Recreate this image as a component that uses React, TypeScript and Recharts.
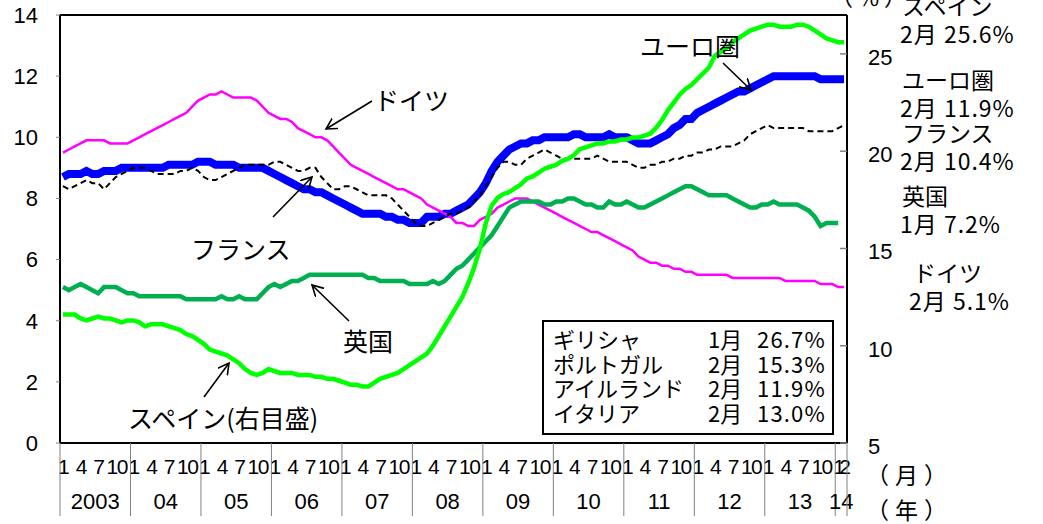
import React from 'react';
import { LineChart, Line, XAxis, YAxis, ReferenceLine } from 'recharts';

// monthly, Jan 2003 .. Feb 2014 (%)
const firstYear = 2003;
const labelMonths = [1, 4, 7, 10];

const euroArea = [
  8.7, 8.8, 8.8, 8.8, 8.9, 8.8, 8.8, 8.9, 8.9, 8.9, 9.0, 9.0,
  9.0, 9.0, 9.0, 9.0, 9.0, 9.0, 9.1, 9.1, 9.1, 9.1, 9.1, 9.2,
  9.2, 9.2, 9.1, 9.1, 9.1, 9.1, 9.0, 9.0, 9.0, 9.0, 9.0, 8.9,
  8.8, 8.7, 8.6, 8.5, 8.4, 8.3, 8.3, 8.2, 8.2, 8.1, 8.0, 7.9,
  7.8, 7.7, 7.6, 7.5, 7.5, 7.5, 7.5, 7.4, 7.4, 7.3, 7.3, 7.2,
  7.2, 7.2, 7.4, 7.4, 7.4, 7.5, 7.5, 7.6, 7.7, 7.8, 8.0, 8.2,
  8.5, 8.9, 9.2, 9.4, 9.6, 9.7, 9.8, 9.8, 9.9, 9.9, 10.0, 10.0,
  10.0, 10.0, 10.0, 10.1, 10.1, 10.0, 10.0, 10.0, 10.0, 10.1, 10.0, 10.0,
  10.0, 9.9, 9.8, 9.8, 9.8, 9.9, 10.0, 10.1, 10.3, 10.4, 10.6, 10.6,
  10.8, 10.9, 11.0, 11.1, 11.2, 11.3, 11.4, 11.5, 11.5, 11.6, 11.7, 11.8,
  11.9, 12.0, 12.0, 12.0, 12.0, 12.0, 12.0, 12.0, 12.0, 11.9, 11.9, 11.9,
  11.9, 11.9,
];

const france = [
  8.4, 8.3, 8.4, 8.5, 8.6, 8.5, 8.5, 8.3, 8.5, 8.7, 8.8, 8.9,
  9.0, 9.0, 9.0, 8.9, 8.8, 8.8, 8.8, 8.8, 8.9, 8.9, 9.0, 8.9,
  8.7, 8.6, 8.6, 8.7, 8.8, 8.9, 9.0, 9.1, 9.1, 9.1, 9.1, 9.1,
  9.2, 9.2, 9.1, 9.0, 8.9, 8.9, 9.0, 9.0, 8.7, 8.5, 8.3, 8.3,
  8.4, 8.4, 8.3, 8.2, 8.1, 8.1, 8.1, 8.1, 8.0, 7.8, 7.6, 7.4,
  7.2, 7.1, 7.1, 7.2, 7.3, 7.4, 7.5, 7.5, 7.6, 7.7, 7.9, 8.1,
  8.4, 8.7, 9.0, 9.2, 9.2, 9.1, 9.1, 9.3, 9.4, 9.5, 9.6, 9.5,
  9.4, 9.3, 9.3, 9.3, 9.3, 9.3, 9.3, 9.4, 9.3, 9.2, 9.2, 9.2,
  9.2, 9.1, 9.0, 9.0, 9.1, 9.1, 9.2, 9.2, 9.3, 9.3, 9.4, 9.4,
  9.5, 9.5, 9.6, 9.6, 9.7, 9.7, 9.7, 9.8, 9.9, 10.1, 10.2, 10.3,
  10.4, 10.3, 10.3, 10.3, 10.3, 10.3, 10.3, 10.2, 10.2, 10.2, 10.2, 10.2,
  10.3, 10.4,
];

const germany = [
  9.5, 9.6, 9.7, 9.8, 9.9, 9.9, 9.9, 9.9, 9.8, 9.8, 9.8, 9.8,
  9.9, 10.0, 10.1, 10.2, 10.3, 10.4, 10.5, 10.6, 10.7, 10.8, 11.0, 11.2,
  11.3, 11.4, 11.4, 11.5, 11.4, 11.3, 11.3, 11.3, 11.3, 11.2, 11.0, 10.8,
  10.7, 10.6, 10.6, 10.5, 10.3, 10.2, 10.1, 10.0, 10.0, 9.9, 9.7, 9.5,
  9.3, 9.1, 9.0, 8.9, 8.8, 8.7, 8.6, 8.5, 8.4, 8.3, 8.3, 8.2,
  8.1, 8.0, 7.8, 7.7, 7.6, 7.5, 7.4, 7.2, 7.2, 7.1, 7.1, 7.3,
  7.4, 7.5, 7.7, 7.8, 7.9, 8.0, 8.0, 8.0, 7.9, 7.8, 7.7, 7.6,
  7.5, 7.4, 7.3, 7.2, 7.1, 7.0, 6.9, 6.9, 6.8, 6.7, 6.6, 6.5,
  6.4, 6.3, 6.1, 6.0, 5.9, 5.9, 5.8, 5.8, 5.7, 5.7, 5.6, 5.6,
  5.5, 5.5, 5.5, 5.5, 5.5, 5.5, 5.4, 5.4, 5.4, 5.4, 5.4, 5.4,
  5.4, 5.4, 5.4, 5.3, 5.3, 5.3, 5.3, 5.3, 5.3, 5.2, 5.2, 5.2,
  5.1, 5.1,
];

const uk = [
  5.1, 5.0, 5.1, 5.2, 5.1, 5.0, 4.9, 5.1, 5.1, 5.1, 5.0, 4.9,
  4.9, 4.8, 4.8, 4.8, 4.8, 4.8, 4.8, 4.8, 4.8, 4.7, 4.7, 4.7,
  4.7, 4.7, 4.7, 4.8, 4.7, 4.7, 4.8, 4.7, 4.7, 4.7, 4.9, 5.1,
  5.2, 5.1, 5.2, 5.3, 5.3, 5.4, 5.5, 5.5, 5.5, 5.5, 5.5, 5.5,
  5.5, 5.5, 5.5, 5.5, 5.4, 5.4, 5.3, 5.3, 5.3, 5.3, 5.3, 5.2,
  5.2, 5.2, 5.2, 5.3, 5.2, 5.3, 5.5, 5.7, 5.8, 6.0, 6.2, 6.4,
  6.6, 6.8, 7.1, 7.4, 7.7, 7.8, 7.9, 7.9, 7.9, 7.9, 7.8, 7.8,
  7.9, 7.9, 8.0, 8.0, 7.9, 7.8, 7.8, 7.7, 7.7, 7.9, 7.8, 7.8,
  7.9, 7.8, 7.7, 7.7, 7.8, 7.9, 8.0, 8.1, 8.2, 8.3, 8.4, 8.4,
  8.3, 8.2, 8.1, 8.1, 8.1, 8.1, 8.0, 7.9, 7.8, 7.7, 7.7, 7.8,
  7.8, 7.9, 7.8, 7.8, 7.8, 7.8, 7.7, 7.6, 7.4, 7.1, 7.2, 7.2,
  7.2, null,
];

// right axis
const spain = [
  11.6, 11.6, 11.6, 11.4, 11.3, 11.4, 11.5, 11.4, 11.4, 11.3, 11.2, 11.3,
  11.3, 11.2, 11.0, 11.1, 11.1, 11.1, 11.0, 10.9, 10.8, 10.6, 10.5, 10.3,
  10.1, 9.8, 9.7, 9.6, 9.5, 9.3, 9.1, 8.8, 8.6, 8.5, 8.6, 8.8,
  8.7, 8.6, 8.6, 8.6, 8.5, 8.5, 8.5, 8.4, 8.4, 8.3, 8.3, 8.2,
  8.1, 8.0, 8.0, 7.9, 7.9, 8.1, 8.3, 8.4, 8.5, 8.6, 8.8, 9.0,
  9.2, 9.4, 9.6, 10.0, 10.5, 11.0, 11.5, 12.0, 12.5, 13.2, 14.0, 15.0,
  16.3, 17.2, 17.6, 17.8, 17.9, 18.1, 18.3, 18.6, 18.7, 18.9, 19.1, 19.2,
  19.3, 19.5, 19.6, 19.8, 20.1, 20.2, 20.3, 20.4, 20.4, 20.5, 20.5, 20.6,
  20.6, 20.7, 20.7, 20.8, 20.9, 21.2, 21.6, 22.1, 22.5, 22.9, 23.2, 23.4,
  23.7, 24.0, 24.3, 24.9, 25.1, 25.3, 25.6, 25.8, 26.0, 26.2, 26.3, 26.4,
  26.5, 26.5, 26.4, 26.4, 26.4, 26.5, 26.5, 26.4, 26.2, 26.0, 25.8, 25.7,
  25.6, 25.6,
];

const leftTicks = [0, 2, 4, 6, 8, 10, 12, 14];
const rightTicks = [5, 10, 15, 20, 25];

const sideNames = ['スペイン', 'ユーロ圏', 'フランス', '英国', 'ドイツ'];
const sideMonths = ['2月', '2月', '2月', '1月', '2月'];
const sideValues = ['25.6%', '11.9%', '10.4%', '7.2%', '5.1%'];

const boxNames = ['ギリシャ', 'ポルトガル', 'アイルランド', 'イタリア'];
const boxMonths = ['1月', '2月', '2月', '2月'];
const boxValues = ['26.7%', '15.3%', '11.9%', '13.0%'];

const N = euroArea.length;
const rows = euroArea.map((v, i) => ({
  i,
  ea: v,
  fr: france[i],
  de: germany[i],
  uk: uk[i],
  es: spain[i],
}));
const monthTicks = rows
  .map((r) => r.i)
  .filter((i) => labelMonths.includes((i % 12) + 1) || i === N - 1);

const NUM = "'Liberation Sans', Arial, sans-serif";
const JP = "'Noto Sans CJK JP', 'Liberation Sans', sans-serif";
const HALF = 787 / N / 2; // half a month in px

const MonthTick = (props: any) => {
  const { x, y, payload } = props;
  const i = payload.value;
  const m = (i % 12) + 1;
  const yr = firstYear + Math.floor(i / 12);
  const last = i === N - 1;
  const yl = yr === firstYear ? String(yr) : String(yr % 100).padStart(2, '0');
  return (
    <g>
      <text x={x + 1} y={y + 31} textAnchor="middle" fontSize={21} fontFamily={NUM} fill="#000" letterSpacing={m >= 10 ? -1.5 : 0}>
        {m}
      </text>
      {m === 1 && <line x1={x - HALF} x2={x - HALF} y1={y} y2={y + 73} stroke="#808080" strokeWidth={1} />}
      {last && <line x1={x + HALF} x2={x + HALF} y1={y} y2={y + 73} stroke="#808080" strokeWidth={1} />}
      {m === 1 && (
        <text x={i === N - 2 ? x + 3 : x - HALF + 12 * HALF} y={y + 66} textAnchor="middle" fontSize={22} fontFamily={NUM} fill="#000">
          {yl}
        </text>
      )}
    </g>
  );
};

const RightTick = (props: any) => {
  const { x, y, payload } = props;
  return (
    <g>
      <line x1={x - 28} x2={x - 21} y1={y} y2={y} stroke="#808080" strokeWidth={1.5} />
      <text x={x} y={y + 11} textAnchor="start" fontSize={22} fontFamily={NUM} fill="#000">
        {payload.value}
      </text>
    </g>
  );
};

const txt = { fontFamily: JP, fill: '#000' } as const;

const App: React.FC = () => {
  return (
    <div style={{ position: 'absolute', left: 0, top: 0, width: 1043, height: 524, background: '#fff' }}>
      <LineChart width={1043} height={524} data={rows} margin={{ top: 15, right: 0, bottom: 0, left: 0 }}>
        <XAxis
          type="number"
          dataKey="i"
          domain={[-0.5, N - 0.5]}
          ticks={monthTicks}
          interval={0}
          tick={<MonthTick />}
          tickSize={0}
          tickMargin={0}
          height={81}
          axisLine={{ stroke: '#000', strokeWidth: 2 }}
        />
        <YAxis
          yAxisId="left"
          domain={[0, 14]}
          ticks={leftTicks}
          width={60}
          tickSize={4}
          tickMargin={18}
          tickLine={{ stroke: '#808080' }}
          axisLine={{ stroke: '#000', strokeWidth: 2 }}
          tick={{ fontSize: 22, fill: '#000', fontFamily: NUM }}
        />
        <YAxis
          yAxisId="right"
          orientation="right"
          domain={[5, 27]}
          ticks={rightTicks}
          width={196}
          tickSize={0}
          tickMargin={21}
          tickLine={false}
          axisLine={{ stroke: '#000', strokeWidth: 2 }}
          tick={<RightTick />}
        />
        <ReferenceLine yAxisId="left" y={14} stroke="#000" strokeWidth={2} />
        <Line yAxisId="left" dataKey="ea" stroke="#0000ff" strokeWidth={8} dot={false} isAnimationActive={false} />
        <Line yAxisId="left" dataKey="de" stroke="#ff00ff" strokeWidth={2.5} dot={false} isAnimationActive={false} />
        <Line yAxisId="left" dataKey="fr" stroke="#000" strokeWidth={2} strokeDasharray="6 4" dot={false} isAnimationActive={false} />
        <Line yAxisId="left" dataKey="uk" stroke="#00b050" strokeWidth={4.5} dot={false} isAnimationActive={false} />
        <Line yAxisId="right" dataKey="es" stroke="#00ff00" strokeWidth={4.5} dot={false} isAnimationActive={false} />
      </LineChart>

      <svg width={1043} height={524} style={{ position: 'absolute', left: 0, top: 0, pointerEvents: 'none', overflow: 'visible' }}>
        <defs>
          <marker id="arr" markerWidth={14} markerHeight={14} refX={11} refY={6} orient="auto" markerUnits="userSpaceOnUse">
            <path d="M0,0 L11,6 L0,12" fill="none" stroke="#000" strokeWidth={1.6} />
          </marker>
        </defs>

        {/* arrows */}
        <line x1={372} y1={101} x2={326} y2={129} stroke="#000" strokeWidth={1.6} markerEnd="url(#arr)" />
        <line x1={273} y1={217} x2={312} y2={177} stroke="#000" strokeWidth={1.6} markerEnd="url(#arr)" />
        <line x1={349} y1={321} x2={312} y2={285} stroke="#000" strokeWidth={1.6} markerEnd="url(#arr)" />
        <line x1={204} y1={397} x2={229} y2={363} stroke="#000" strokeWidth={1.6} markerEnd="url(#arr)" />
        <line x1={723} y1={63} x2={751} y2={90} stroke="#000" strokeWidth={1.6} markerEnd="url(#arr)" />

        {/* callouts */}
        <text x={374} y={99} dominantBaseline="central" fontSize={25} {...txt}>ドイツ</text>
        <text x={191} y={248} dominantBaseline="central" fontSize={25} {...txt}>フランス</text>
        <text x={343} y={340} dominantBaseline="central" fontSize={25} {...txt}>英国</text>
        <text x={128} y={417} dominantBaseline="central" fontSize={25} {...txt}>スペイン(右目盛)</text>
        <text x={640} y={45} dominantBaseline="central" fontSize={25} {...txt}>ユーロ圏</text>

        {/* inset box */}
        <rect x={543} y={321} width={290} height={113} fill="#fff" stroke="#000" strokeWidth={2} />
        {boxNames.map((n, k) => (
          <g key={n}>
            <text x={553} y={338 + k * 24.5} dominantBaseline="central" fontSize={22} {...txt}>{n}</text>
            <text x={708} y={338 + k * 24.5} dominantBaseline="central" fontSize={22} {...txt}>{boxMonths[k]}</text>
            <text x={826} y={338 + k * 24.5} dominantBaseline="central" textAnchor="end" fontSize={22} letterSpacing={1.2} {...txt}>{boxValues[k]}</text>
          </g>
        ))}

        {/* right-side latest values */}
        <text x={830} y={-4} dominantBaseline="central" fontSize={23} letterSpacing={4} {...txt}>（％）</text>
        {sideNames.map((n, k) => {
          const ny = [5, 79, 132, 195, 272][k];
          const nx = k === 4 ? 913 : 902;
          return (
            <g key={n}>
              <text x={nx} y={ny} dominantBaseline="central" fontSize={23} {...txt}>{n}</text>
              <text x={k === 4 ? 909 : 900} y={ny + 28} dominantBaseline="central" fontSize={23} letterSpacing={1} {...txt}>
                {sideMonths[k]} {sideValues[k]}
              </text>
            </g>
          );
        })}

        {/* axis unit labels */}
        <text x={866} y={474} dominantBaseline="central" fontSize={23} letterSpacing={6} {...txt}>（月）</text>
        <text x={866} y={509} dominantBaseline="central" fontSize={23} letterSpacing={6} {...txt}>（年）</text>
      </svg>
    </div>
  );
};

export default App;
